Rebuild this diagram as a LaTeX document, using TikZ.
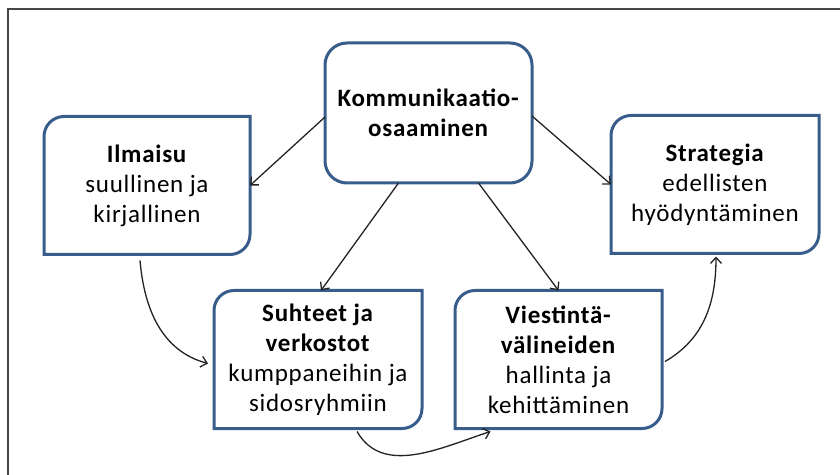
\documentclass[tikz,border=0pt]{standalone}
\usepackage{fontspec}
\setmainfont{Carlito}[LetterSpace=3]
\usetikzlibrary{arrows.meta}
\definecolor{boxblue}{RGB}{56,93,138}
\definecolor{framegray}{RGB}{70,70,70}
\definecolor{arrowgray}{RGB}{35,35,35}
\newcommand\cornerr{20pt}
% outline with rounded top-left and bottom-right corners only
\newcommand\diagoutline[1]{%
  \draw[boxline] (#1.south west) -- ([yshift=-\cornerr]#1.north west)
    arc[start angle=180,end angle=90,radius=\cornerr] -- (#1.north east)
    -- ([yshift=\cornerr]#1.south east)
    arc[start angle=0,end angle=-90,radius=\cornerr] -- cycle;}
\tikzset{
  boxline/.style={draw=boxblue,line width=3pt},
  diagbox/.style={minimum width=206pt,minimum height=138pt,inner sep=0pt,outer sep=0pt,
    align=center,font=\fontsize{25}{30}\selectfont},
  link/.style={draw=arrowgray,line width=1.3pt,-{Straight Barb[length=6pt,width=11pt]}},
}
\begin{document}
\begin{tikzpicture}[x=1pt,y=1pt]
\useasboundingbox (0,0) rectangle (840,474);
% frame
\draw[framegray,line width=2.5pt] (8,-5) -- (8,465) -- (845,465);
% boxes
\node[diagbox,draw=boxblue,line width=3pt,rounded corners=22pt,minimum width=207pt,minimum height=140pt] (komm) at (428.5,361)
  {\textbf{Kommunikaatio-}\\\textbf{osaaminen}};
\node[diagbox] (ilm) at (147,288.5) {\textbf{Ilmaisu}\\suullinen ja\\kirjallinen};
\node[diagbox,minimum width=208pt] (str) at (715,289.5) {\textbf{Strategia}\\edellisten\\hyödyntäminen};
\node[diagbox,minimum width=208pt] (suh) at (318,114.5) {\textbf{Suhteet ja}\\\textbf{verkostot}\\kumppaneihin ja\\sidosryhmiin};
\node[diagbox,minimum width=207pt] (vie) at (558.5,114.5) {\textbf{Viestintä-}\\\textbf{välineiden}\\hallinta ja\\kehittäminen};
\diagoutline{ilm}
\diagoutline{str}
\diagoutline{suh}
\diagoutline{vie}
% connectors
\draw[link] ([yshift=-4pt]komm.west) -- (ilm.east);
\draw[link] ([yshift=-3pt]komm.east) -- (str.west);
\draw[link] ([xshift=-30pt]komm.south) -- ([xshift=3pt]suh.north);
\draw[link] ([xshift=50pt]komm.south) -- (vie.north);
\draw[link] ([xshift=-7pt,yshift=-6pt]ilm.south) to[out=-85,in=165] ([xshift=-6pt,yshift=-4pt]suh.west);
\draw[link] ([xshift=39pt,yshift=-3pt]suh.south) to[out=-60,in=-162] ([xshift=-68pt,yshift=-3pt]vie.south);
\draw[link] ([xshift=3pt,yshift=-2pt]vie.east) to[out=30,in=-90] ([xshift=1pt,yshift=-3pt]str.south);
\end{tikzpicture}
\end{document}
